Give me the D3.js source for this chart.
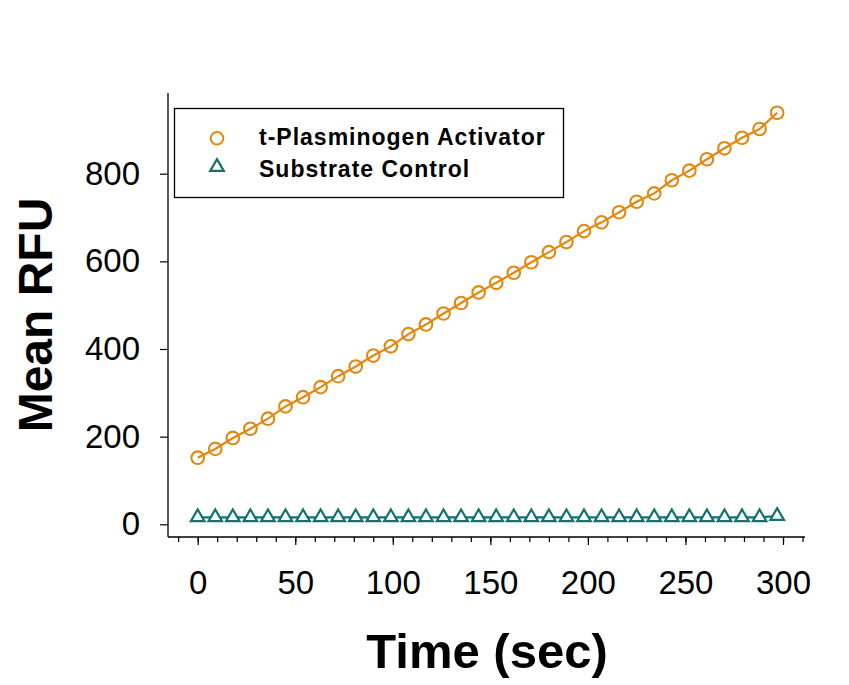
<!DOCTYPE html>
<html><head><meta charset="utf-8">
<script src="https://cdn.jsdelivr.net/npm/d3@7"></script>
<style>body{margin:0;background:#fff;} svg{display:block;}</style>
</head><body>
<svg id="c" width="849" height="685"></svg>
<script>
const times = [0,9,18,27,36,45,54,63,72,81,90,99,108,117,126,135,144,153,162,171,180,189,198,207,216,225,234,243,252,261,270,279,288,297];
const tpaValues = [152,172,197,218,241,269,290,313,338,360,385,406,434,456,481,505,529,551,574,598,621,644,669,689,712,736,755,785,807,833,858,882,902,939];
const controlValues = [16,16,16,16,16,16,16,16,16,16,16,16,16,16,16,16,16,16,16,16,16,16,16,16,16,16,16,16,16,16,16,16,16,19];
const xMajorTicks = [0,50,100,150,200,250,300];
const xMinorTicks = d3.range(-10, 311, 10);
const yTicks = [0,200,400,600,800];
const seriesNames = ["t-Plasminogen Activator","Substrate Control"];
const colors = ["#E3870F","#11726E"];

const svg = d3.select("#c");
const font = "Arial, 'Liberation Sans', sans-serif";
const x = d3.scaleLinear().domain([0,300]).range([197.7,783]);
const y = d3.scaleLinear().domain([0,800]).range([524.3,173.7]);
const xLeft = 168, xRight = 805, yTop = 93, yBottom = 537;

// axes lines
svg.append("line").attr("x1",xLeft).attr("x2",xLeft).attr("y1",yTop).attr("y2",yBottom).attr("stroke","#000").attr("stroke-width",1.3);
svg.append("line").attr("x1",xLeft).attr("x2",xRight).attr("y1",yBottom).attr("y2",yBottom).attr("stroke","#000").attr("stroke-width",1.3);

// x axis ticks
const xAxisMinor = d3.axisBottom(x).tickValues(xMinorTicks).tickSize(5).tickFormat("");
const gxm = svg.append("g").attr("transform",`translate(0,${yBottom})`).call(xAxisMinor);
gxm.select(".domain").remove();
gxm.selectAll("line").attr("stroke","#000").attr("stroke-width",1.2);
const xAxis = d3.axisBottom(x).tickValues(xMajorTicks).tickSize(8).tickPadding(26);
const gx = svg.append("g").attr("transform",`translate(0,${yBottom})`).call(xAxis);
gx.select(".domain").remove();
gx.selectAll("line").attr("stroke","#000").attr("stroke-width",1.2);
gx.selectAll("text").attr("font-family",font).attr("font-size",33).attr("fill","#000").attr("dy","0.71em");

// y axis
const yAxis = d3.axisLeft(y).tickValues(yTicks).tickSize(8).tickPadding(20);
const gy = svg.append("g").attr("transform",`translate(${xLeft},0)`).call(yAxis);
gy.select(".domain").remove();
gy.selectAll("line").attr("stroke","#000").attr("stroke-width",1.2);
gy.selectAll("text").attr("font-family",font).attr("font-size",33).attr("fill","#000");

// axis titles
svg.append("text").attr("x",487).attr("y",668).attr("text-anchor","middle")
  .attr("font-family",font).attr("font-weight","bold").attr("font-size",49).text("Time (sec)");
svg.append("text").attr("transform","translate(52,315) rotate(-90)").attr("text-anchor","middle")
  .attr("font-family",font).attr("font-weight","bold").attr("font-size",48).text("Mean RFU");

// series
const tpa = times.map((t,i)=>({t, v:tpaValues[i]}));
const ctl = times.map((t,i)=>({t, v:controlValues[i]}));
const line = d3.line().x(d=>x(d.t)).y(d=>y(d.v));

svg.append("path").datum(ctl).attr("d",line).attr("fill","none").attr("stroke",colors[1]).attr("stroke-width",2.2);
const tri = d3.symbol().type(d3.symbolTriangle).size(80);
svg.append("g").selectAll("path").data(ctl).join("path")
  .attr("d",tri).attr("transform",d=>`translate(${x(d.t)},${y(d.v)})`)
  .attr("fill","#fff").attr("stroke",colors[1]).attr("stroke-width",2.2);

svg.append("path").datum(tpa).attr("d",line).attr("fill","none").attr("stroke",colors[0]).attr("stroke-width",2.2);
svg.append("g").selectAll("circle").data(tpa).join("circle")
  .attr("cx",d=>x(d.t)).attr("cy",d=>y(d.v)).attr("r",6.3)
  .attr("fill","none").attr("stroke",colors[0]).attr("stroke-width",2.1);

// legend
svg.append("rect").attr("x",174.5).attr("y",108.5).attr("width",389).attr("height",89)
  .attr("fill","#fff").attr("stroke","#000").attr("stroke-width",1.3);
svg.append("circle").attr("cx",217).attr("cy",138.3).attr("r",6.3).attr("fill","none").attr("stroke",colors[0]).attr("stroke-width",2);
svg.append("path").attr("d",tri).attr("transform","translate(217,167)").attr("fill","none").attr("stroke",colors[1]).attr("stroke-width",2.2);
[145,177].forEach((b,i)=>{
  svg.append("text").attr("x",259).attr("y",b).attr("font-family",font).attr("font-weight","bold")
    .attr("font-size",23).attr("letter-spacing","1px").attr("fill","#000").text(seriesNames[i]);
});
</script>
</body></html>
